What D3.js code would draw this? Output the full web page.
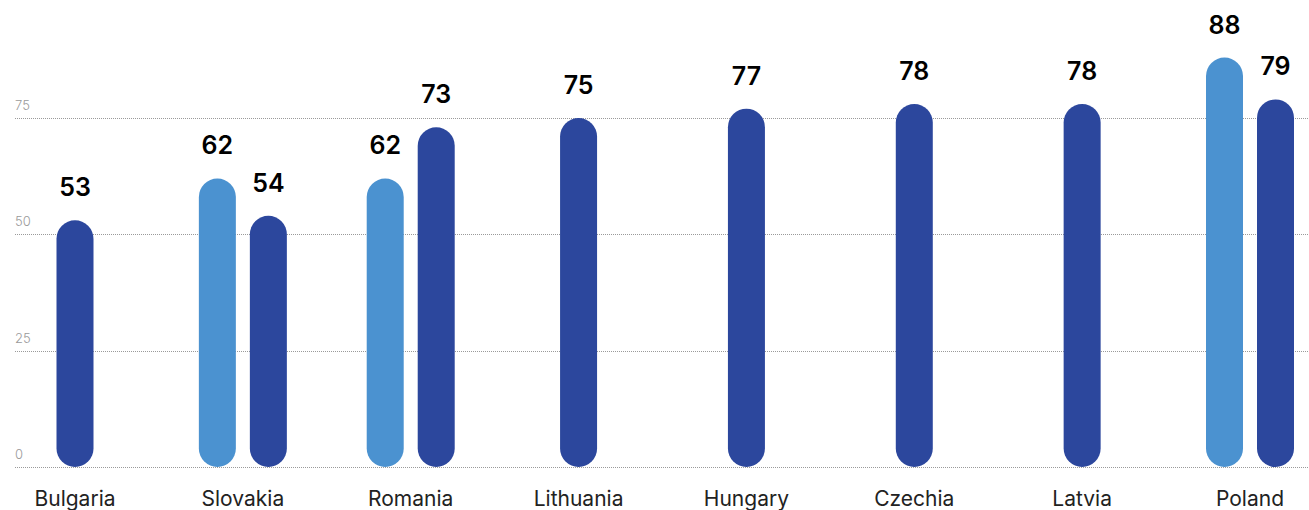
<!DOCTYPE html>
<html>
<head>
<meta charset="utf-8">
<script src="https://cdn.jsdelivr.net/npm/d3@7"></script>
<style>
  body { margin: 0; background: #fff; }
  text { font-family: Inter, "Noto Sans", sans-serif; }
</style>
</head>
<body>
<div id="chart"></div>
<script>
let svgWidth = 1309;
let svgHeight = 510;

// Data

let countries = ["Bulgaria", "Slovakia", "Romania", "Lithuania", "Hungary", "Czechia", "Latvia", "Poland"];
let lightValues = [null, 62, 62, null, null, null, null, 88];
let darkValues = [53, 54, 73, 75, 77, 78, 78, 79];
let yTicks = [0, 25, 50, 75];

let lightColor = "#4b92d0";
let darkColor = "#2c479d";

let svg = d3.select("#chart").append("svg")
  .attr("width", svgWidth)
  .attr("height", svgHeight);

// Scales

let xScale = d3.scalePoint()
  .domain(countries)
  .range([75, 1250]);

let yScale = d3.scaleLinear()
  .domain([0, 75])
  .range([467, 118]);

let barWidth = 37;
let pairOffset = 25.5;

// Grid + y labels

let grid = svg.append("g");
yTicks.forEach(t => {
  grid.append("line")
    .attr("x1", 15)
    .attr("x2", svgWidth)
    .attr("y1", Math.round(yScale(t)) + 0.5)
    .attr("y2", Math.round(yScale(t)) + 0.5)
    .attr("stroke", "#9a9a9a")
    .attr("stroke-width", 1)
    .attr("stroke-dasharray", "1,1");
  grid.append("text")
    .attr("x", 15)
    .attr("y", yScale(t) - 8)
    .attr("font-size", 13)
    .attr("font-weight", 300)
    .attr("fill", "#9a9a9a")
    .text(t);
});

// Bars

let bars = [];
countries.forEach((c, i) => {
  let hasLight = lightValues[i] !== null;
  if (hasLight) {
    bars.push({ country: c, value: lightValues[i], color: lightColor, cx: xScale(c) - pairOffset });
    bars.push({ country: c, value: darkValues[i], color: darkColor, cx: xScale(c) + pairOffset });
  } else {
    bars.push({ country: c, value: darkValues[i], color: darkColor, cx: xScale(c) });
  }
});

let barGroup = svg.append("g");

barGroup.selectAll("rect")
  .data(bars)
  .enter()
  .append("rect")
  .attr("x", d => d.cx - barWidth / 2)
  .attr("y", d => yScale(d.value))
  .attr("width", barWidth)
  .attr("height", d => yScale(0) - yScale(d.value))
  .attr("rx", barWidth / 2)
  .attr("fill", d => d.color);

barGroup.selectAll("text.value")
  .data(bars)
  .enter()
  .append("text")
  .attr("class", "value")
  .attr("x", d => d.cx)
  .attr("y", d => yScale(d.value) - 24)
  .attr("text-anchor", "middle")
  .attr("font-size", 25)
  .attr("font-weight", 600)
  .attr("fill", "#000")
  .text(d => d.value);

// Category labels

svg.append("g").selectAll("text")
  .data(countries)
  .enter()
  .append("text")
  .attr("x", d => xScale(d))
  .attr("y", 506)
  .attr("text-anchor", "middle")
  .attr("font-size", 21)
  .attr("fill", "#222")
  .text(d => d);
</script>
</body>
</html>
